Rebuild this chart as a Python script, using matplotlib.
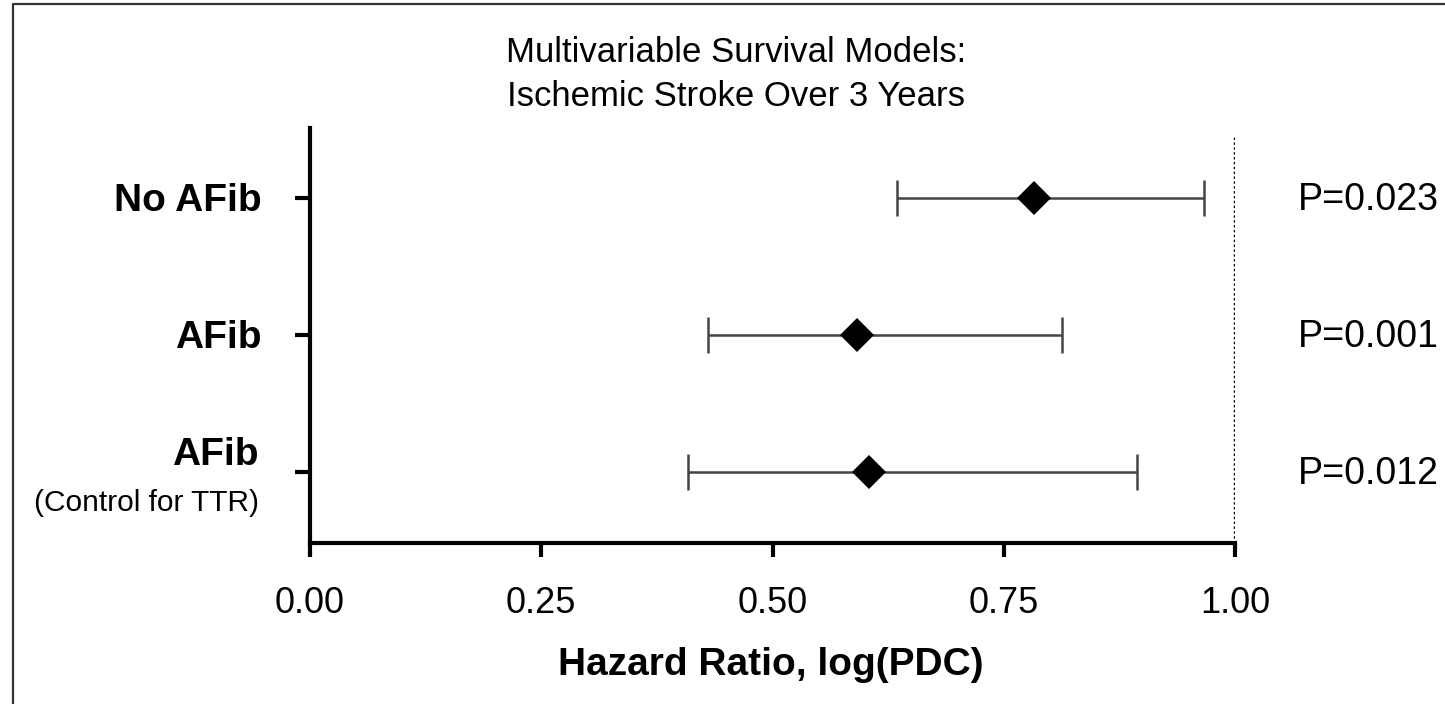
import matplotlib
matplotlib.use("Agg")
import matplotlib.pyplot as plt
from matplotlib import font_manager
from matplotlib.lines import Line2D

# ---- data ----
row_labels = ["No AFib", "AFib", "AFib"]
row_sublabels = ["", "", "(Control for TTR)"]
hazard_ratio = [0.783, 0.591, 0.604]
ci_low = [0.635, 0.430, 0.409]
ci_high = [0.967, 0.813, 0.894]
p_values = ["P=0.023", "P=0.001", "P=0.012"]
x_ticks = [0.00, 0.25, 0.50, 0.75, 1.00]
x_tick_labels = ["0.00", "0.25", "0.50", "0.75", "1.00"]
title_lines = ["Multivariable Survival Models:", "Ischemic Stroke Over 3 Years"]
x_label = "Hazard Ratio, log(PDC)"

plt.rcParams['font.family'] = ['Liberation Sans', 'DejaVu Sans']

names = {f.name for f in font_manager.fontManager.ttflist}
narrow = 'Liberation Sans Narrow' in names

W, H = 1445, 704
fig = plt.figure(figsize=(W / 100, H / 100), dpi=100)
fig.patch.set_facecolor('white')

ax = fig.add_axes([310 / W, 1 - 543 / H, 925 / W, 415 / H])
ypos = list(range(len(row_labels)))

ax.set_xlim(0, 1)
ax.set_ylim(2.518, -0.511)

for s in ['top', 'right']:
    ax.spines[s].set_visible(False)
for s in ['left', 'bottom']:
    ax.spines[s].set_linewidth(3)
    ax.spines[s].set_color('black')

# reference line
ref = ax.axvline(1.0, ymin=0, ymax=(543 - 135) / 415, color='black', lw=2.5,
                 linestyle=(0, (0.7, 0.7)), zorder=1)
ref.set_dash_capstyle('butt')

# error bars
for i, y in enumerate(ypos):
    lo = hazard_ratio[i] - ci_low[i]
    hi = ci_high[i] - hazard_ratio[i]
    ax.errorbar([hazard_ratio[i]], [y], xerr=[[lo], [hi]], fmt='none',
                ecolor='#444444', elinewidth=1.8, capsize=13, capthick=1.8, zorder=2)
ax.plot(hazard_ratio, ypos, linestyle='none', marker='D', markersize=17,
        color='black', markeredgewidth=0, zorder=3)

ax.set_xticks(x_ticks)
ax.set_xticklabels(x_tick_labels, fontsize=26)
ax.set_yticks(ypos)
ax.set_yticklabels([])
ax.tick_params(axis='x', length=10, width=3, pad=21, color='black')
ax.tick_params(axis='y', length=11, width=3, color='black')

# row labels
for i, y in enumerate(ypos):
    if row_sublabels[i]:
        ax.annotate(row_labels[i], xy=(0, y), xycoords=('axes fraction', 'data'),
                    xytext=(-37, 5), textcoords='offset points', ha='right', va='baseline',
                    fontsize=28, fontweight='bold')
        if narrow:
            ax.annotate(row_sublabels[i], xy=(0, y), xycoords=('axes fraction', 'data'),
                        xytext=(-37, -28), textcoords='offset points', ha='right', va='baseline',
                        fontsize=26, family=['Liberation Sans Narrow', 'Liberation Sans'])
        else:
            ax.annotate(row_sublabels[i], xy=(0, y), xycoords=('axes fraction', 'data'),
                        xytext=(-37, -28), textcoords='offset points', ha='right', va='baseline',
                        fontsize=21.5)
    else:
        ax.annotate(row_labels[i], xy=(0, y), xycoords=('axes fraction', 'data'),
                    xytext=(-35, -9.4), textcoords='offset points', ha='right', va='baseline',
                    fontsize=28, fontweight='bold')

# p-values
for i, y in enumerate(ypos):
    ax.annotate(p_values[i], xy=(1.068, y), xycoords=('data', 'data'),
                xytext=(0, -8.6), textcoords='offset points', ha='left', va='baseline',
                fontsize=27, annotation_clip=False)

# title
fig.text(736 / W, 1 - 62 / H, title_lines[0], ha='center', va='baseline', fontsize=25)
fig.text(736 / W, 1 - 106 / H, title_lines[1], ha='center', va='baseline', fontsize=25)

# x label
fig.text(771 / W, 1 - 675 / H, x_label, ha='center', va='baseline', fontsize=28,
         fontweight='bold')

# border
fig.add_artist(Line2D([13 / W, 13 / W, 1.0], [0, 1 - 4 / H, 1 - 4 / H],
                      transform=fig.transFigure, color='#333333', lw=1.6))

fig.savefig('out.png', dpi=100)
